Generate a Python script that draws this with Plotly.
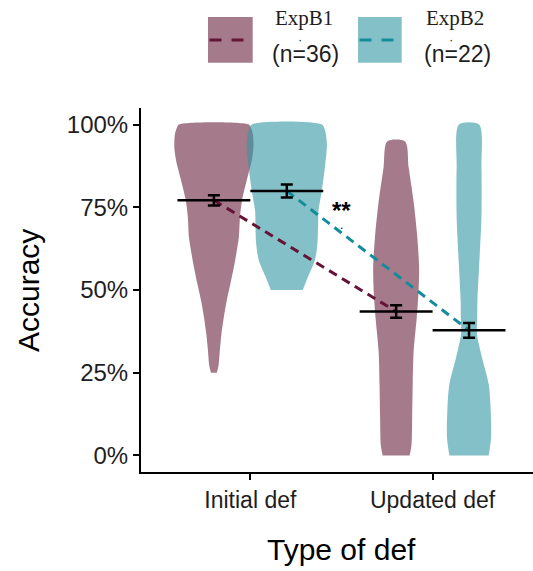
import plotly.graph_objects as go

# ---------------- data ----------------
categories = ["Initial def", "Updated def"]
groups = ["ExpB1", "ExpB2"]
group_n = ["(n=36)", "(n=22)"]

mean_b1 = [0.771, 0.435]
mean_b2 = [0.799, 0.378]
se_b1 = [0.0155, 0.019]
se_b2 = [0.0195, 0.0225]

# violin outlines: accuracy level and half-width (x units)
b1_init_y = [0.25, 0.27, 0.32, 0.365, 0.42, 0.47, 0.52, 0.57, 0.62, 0.66, 0.72, 0.77, 0.84, 0.89, 0.93, 0.97, 0.99, 1.00]
b1_init_w = [0.016, 0.025, 0.033, 0.041, 0.055, 0.071, 0.091, 0.110, 0.126, 0.137, 0.143, 0.154, 0.184, 0.207, 0.217, 0.214, 0.203, 0.192]

b2_init_y = [0.50, 0.542, 0.59, 0.64, 0.70, 0.74, 0.80, 0.87, 0.94, 0.98, 1.00]
b2_init_w = [0.088, 0.118, 0.154, 0.168, 0.172, 0.174, 0.192, 0.209, 0.220, 0.211, 0.192]

b1_upd_y = [0.0, 0.03, 0.115, 0.215, 0.314, 0.417, 0.495, 0.568, 0.668, 0.767, 0.87, 0.949]
b1_upd_w = [0.074, 0.084, 0.088, 0.091, 0.096, 0.113, 0.123, 0.126, 0.115, 0.096, 0.069, 0.049]

b2_upd_y = [0.0, 0.054, 0.136, 0.215, 0.296, 0.366, 0.417, 0.468, 0.568, 0.72, 0.87, 1.0]
b2_upd_w = [0.108, 0.121, 0.119, 0.108, 0.071, 0.044, 0.045, 0.046, 0.055, 0.068, 0.068, 0.055]

dodge = [-0.2, 0.2]
fill_cols = ["rgba(105,33,62,0.6)", "rgba(50,150,163,0.6)"]
line_cols = ["rgb(100,20,55)", "rgb(20,140,155)"]

fig = go.Figure()

def violin(cat_idx, grp_idx, ys, ws):
    c = cat_idx + 1 + dodge[grp_idx]
    xs = [c - w for w in ws] + [c + w for w in reversed(ws)]
    yy = list(ys) + list(reversed(ys))
    fig.add_trace(go.Scatter(x=xs, y=yy, mode="lines", fill="toself",
                             fillcolor=fill_cols[grp_idx],
                             line=dict(width=0, shape="spline", smoothing=0.8, color=fill_cols[grp_idx]),
                             showlegend=False, hoverinfo="skip"))

violin(0, 0, b1_init_y, b1_init_w)
violin(0, 1, b2_init_y, b2_init_w)
violin(1, 0, b1_upd_y, b1_upd_w)
violin(1, 1, b2_upd_y, b2_upd_w)

means = [mean_b1, mean_b2]
ses = [se_b1, se_b2]

# dashed connecting lines
for g in range(2):
    xs = [i + 1 + dodge[g] for i in range(len(categories))]
    fig.add_trace(go.Scatter(x=xs, y=means[g], mode="lines",
                             line=dict(color=line_cols[g], width=3, dash="9px,6px"),
                             showlegend=False, hoverinfo="skip"))

# mean bars and error bars
for g in range(2):
    mx, my = [], []
    for i in range(len(categories)):
        c = i + 1 + dodge[g]
        mx += [c - 0.2, c + 0.2, None]
        my += [means[g][i], means[g][i], None]
    fig.add_trace(go.Scatter(x=mx, y=my, mode="lines",
                             line=dict(color="black", width=2.5),
                             showlegend=False, hoverinfo="skip"))
    fig.add_trace(go.Scatter(x=[i + 1 + dodge[g] for i in range(len(categories))], y=means[g],
                             mode="markers", marker=dict(size=0.1, color="black"),
                             error_y=dict(type="data", array=ses[g], visible=True,
                                          color="black", thickness=2.5, width=6),
                             showlegend=False, hoverinfo="skip"))

# ---------------- layout ----------------
W, H = 533, 571
ml, mr, mt, mb = 141, 0, 108, 99
pw, ph = W - ml - mr, H - mt - mb

def px(x):
    return (x - ml) / pw

def py(y):
    return (H - mb - y) / ph

fig.update_layout(
    width=W, height=H,
    margin=dict(l=ml, r=mr, t=mt, b=mb, pad=0),
    plot_bgcolor="white", paper_bgcolor="white",
    font=dict(family="Liberation Sans, Arial, sans-serif", color="black"),
    showlegend=False,
    xaxis=dict(range=[0.4, 2.551], tickvals=[1, 2], ticktext=categories,
               showgrid=False, zeroline=False, showline=True, linecolor="black", linewidth=2,
               ticks="outside", ticklen=6, tickwidth=1.5, tickcolor="black",
               tickfont=dict(size=23, color="rgb(30,30,30)")),
    yaxis=dict(range=[-0.05, 1.05], tickvals=[0, 0.25, 0.5, 0.75, 1.0],
               ticktext=["0%", "25%", "50%", "75%", "100%"],
               showgrid=False, zeroline=False, showline=True, linecolor="black", linewidth=2,
               ticks="outside", ticklen=6, tickwidth=1.5, tickcolor="black",
               tickfont=dict(size=24, color="rgb(30,30,30)")),
)

ann = []
# axis titles
ann.append(dict(text="Type of def", x=px(341), y=py(549), xref="paper", yref="paper",
                showarrow=False, font=dict(size=30), xanchor="center", yanchor="middle"))
ann.append(dict(text="Accuracy", x=px(28), y=py(291), xref="paper", yref="paper",
                showarrow=False, font=dict(size=30), textangle=-90, xanchor="center", yanchor="middle"))
# significance
ann.append(dict(text="<b>**</b>", x=1.5, y=0.74, xref="x", yref="y", showarrow=False,
                font=dict(size=24), xanchor="center", yanchor="middle"))
ann.append(dict(text=".", x=1.5, y=0.695, xref="x", yref="y", showarrow=False,
                font=dict(size=12), xanchor="center", yanchor="middle"))

# manual legend
shapes = []
leg_sq = [(208, 252.7), (358, 401.7)]
leg_dash = [(209.5, 252), (359.5, 401)]
leg_txt_x = [303.5, 455]
for g in range(2):
    x0, x1 = leg_sq[g]
    shapes.append(dict(type="rect", xref="paper", yref="paper",
                       x0=px(x0), x1=px(x1), y0=py(62.7), y1=py(17),
                       fillcolor=fill_cols[g], line=dict(width=0), layer="above"))
    d0, d1 = leg_dash[g]
    shapes.append(dict(type="line", xref="paper", yref="paper",
                       x0=px(d0), x1=px(d1), y0=py(40), y1=py(40),
                       line=dict(color=line_cols[g], width=3, dash="12px,10px"), layer="above"))
    ann.append(dict(text=groups[g], x=px(leg_txt_x[g]), y=py(18), xref="paper", yref="paper",
                    showarrow=False, xanchor="center", yanchor="middle",
                    font=dict(family="Liberation Serif, Times New Roman, serif", size=21, color="rgb(30,30,30)")))
    ann.append(dict(text="·", x=px(leg_txt_x[g] - 4), y=py(39), xref="paper", yref="paper",
                    showarrow=False, xanchor="center", yanchor="middle",
                    font=dict(size=13, color="rgb(30,30,30)")))
    ann.append(dict(text=group_n[g], x=px(leg_txt_x[g] + 2), y=py(54), xref="paper", yref="paper",
                    showarrow=False, xanchor="center", yanchor="middle",
                    font=dict(size=23, color="rgb(30,30,30)")))

fig.update_layout(annotations=ann, shapes=shapes)

fig.write_html("out.html", config={"displayModeBar": False},
               post_script="document.body.style.margin='0';document.body.style.padding='0';")
